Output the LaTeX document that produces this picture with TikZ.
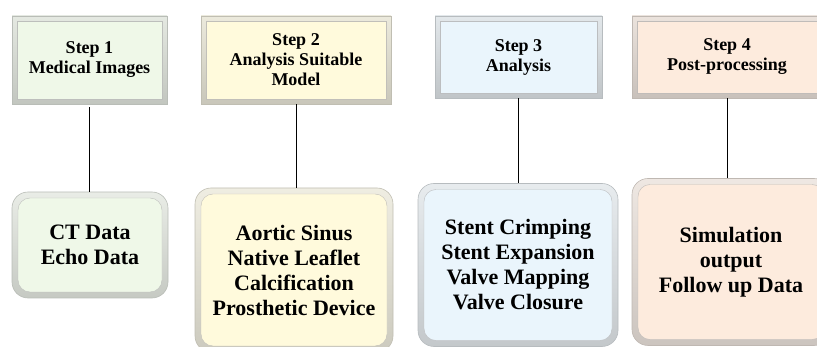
\documentclass[tikz,border=0pt]{standalone}
\usepackage{fontspec}
\setmainfont{Liberation Serif}
\usetikzlibrary{calc}
\definecolor{cA}{HTML}{EFF8E8}
\definecolor{cB}{HTML}{FFFADC}
\definecolor{cC}{HTML}{EAF5FC}
\definecolor{cD}{HTML}{FDEBDD}
\tikzset{
  x=1pt, y=-1pt,
  topbox/.style={rectangle, draw=#1!45!gray!90, line width=0.5pt,
    top color=#1!75!gray!60, bottom color=#1!50!gray!85,
    inner sep=0pt, align=center,
    font=\bfseries\fontsize{18}{20}\selectfont,
    path picture={\filldraw[fill=#1, draw=#1!30!gray!70, line width=0.4pt]
      ([xshift=5pt,yshift=-5pt]path picture bounding box.north west) rectangle
      ([xshift=-5pt,yshift=5pt]path picture bounding box.south east);}},
  botbox/.style={rectangle, rounded corners=16pt, draw=#1!45!gray!90, line width=0.6pt,
    top color=#1!75!gray!50, bottom color=#1!50!gray!80,
    inner sep=0pt, align=center,
    font=\bfseries\fontsize{22}{25}\selectfont,
    path picture={\filldraw[fill=#1, draw=#1!30!gray!70, line width=0.4pt, rounded corners=12pt]
      ([xshift=6pt,yshift=-6pt]path picture bounding box.north west) rectangle
      ([xshift=-6pt,yshift=6pt]path picture bounding box.south east);}},
  link/.style={draw=black, line width=0.8pt}
}
\begin{document}
\begin{tikzpicture}
\useasboundingbox (0,0) rectangle (817,347);
% top step boxes
\node[topbox=cA, minimum width=155pt, minimum height=88pt] (s1) at (89.5,60) {Step 1\\Medical Images};
\node[topbox=cB, minimum width=190pt, minimum height=88pt] (s2) at (296,60) {Step 2\\Analysis Suitable\\Model};
\node[topbox=cC, minimum width=167pt, minimum height=82pt] (s3) at (518.5,57) {Step 3\\Analysis};
\node[topbox=cD, minimum width=190pt, minimum height=82pt] (s4) at (727,57) {Step 4\\Post-processing};
% bottom boxes
\node[botbox=cA, minimum width=156pt, minimum height=106pt] (b1) at (90,245) {CT Data\\Echo Data};
\node[botbox=cB, minimum width=198pt, minimum height=164pt] (b2) at (294,270) {Aortic Sinus\\Native Leaflet\\Calcification\\Prosthetic Device};
\node[botbox=cC, minimum width=200pt, minimum height=163pt] (b3) at (518,265) {Stent Crimping\\Stent Expansion\\Valve Mapping\\Valve Closure};
\node[botbox=cD, minimum width=198pt, minimum height=167pt] (b4) at (731,262) {Simulation\\output\\Follow up Data};
% connectors
\draw[link] ([yshift=-3pt]s1.south) -- (s1.south |- b1.north);
\draw[link] (s2.south) -- (s2.south |- b2.north);
\draw[link] (s3.south) -- (s3.south |- b3.north);
\draw[link] (s4.south) -- (s4.south |- b4.north);
\end{tikzpicture}
\end{document}
